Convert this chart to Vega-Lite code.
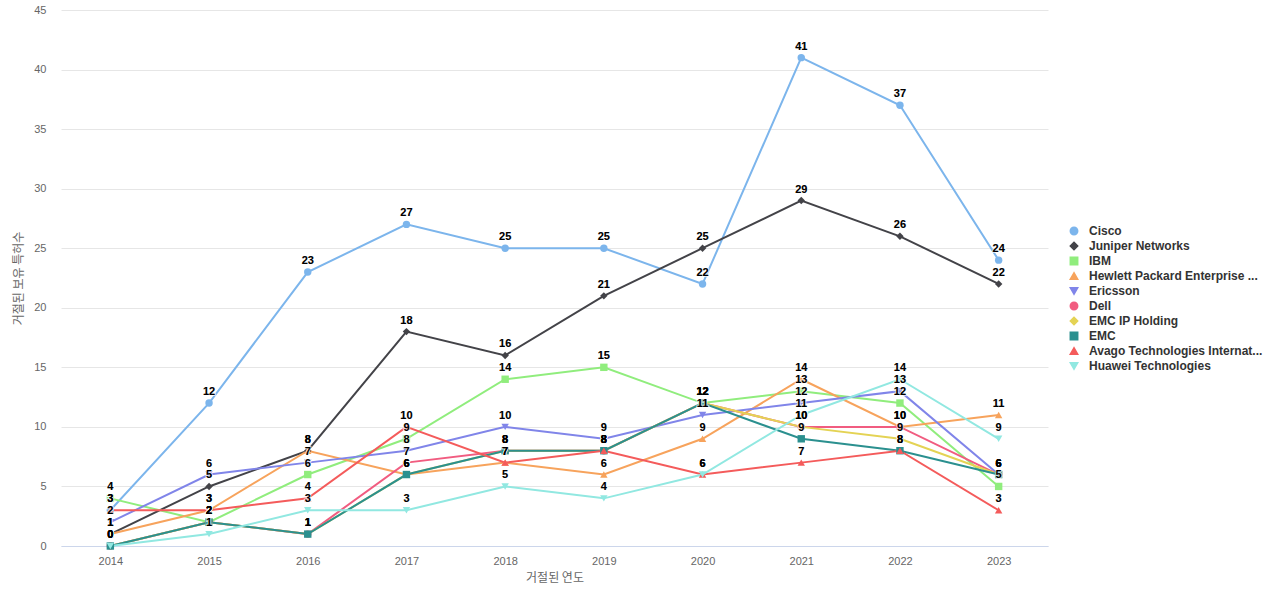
{
  "$schema": "https://vega.github.io/schema/vega-lite/v6.json",
  "autosize": {"type": "none"},
  "padding": {"left": 61, "top": 10, "right": 232, "bottom": 54},
  "width": 987,
  "height": 536,
  "background": "#ffffff",
  "config": {
    "view": {"stroke": null},
    "font": "Liberation Sans",
    "axis": {"labelFont": "Liberation Sans", "titleFont": "Noto Sans CJK KR"},
    "legend": {"labelFont": "Liberation Sans"}
  },
  "datasets": {
    "rows": [
      {"year": "2014", "company": "Cisco", "value": 3},
      {"year": "2015", "company": "Cisco", "value": 12},
      {"year": "2016", "company": "Cisco", "value": 23},
      {"year": "2017", "company": "Cisco", "value": 27},
      {"year": "2018", "company": "Cisco", "value": 25},
      {"year": "2019", "company": "Cisco", "value": 25},
      {"year": "2020", "company": "Cisco", "value": 22},
      {"year": "2021", "company": "Cisco", "value": 41},
      {"year": "2022", "company": "Cisco", "value": 37},
      {"year": "2023", "company": "Cisco", "value": 24},
      {"year": "2014", "company": "Juniper Networks", "value": 1},
      {"year": "2015", "company": "Juniper Networks", "value": 5},
      {"year": "2016", "company": "Juniper Networks", "value": 8},
      {"year": "2017", "company": "Juniper Networks", "value": 18},
      {"year": "2018", "company": "Juniper Networks", "value": 16},
      {"year": "2019", "company": "Juniper Networks", "value": 21},
      {"year": "2020", "company": "Juniper Networks", "value": 25},
      {"year": "2021", "company": "Juniper Networks", "value": 29},
      {"year": "2022", "company": "Juniper Networks", "value": 26},
      {"year": "2023", "company": "Juniper Networks", "value": 22},
      {"year": "2014", "company": "IBM", "value": 4},
      {"year": "2015", "company": "IBM", "value": 2},
      {"year": "2016", "company": "IBM", "value": 6},
      {"year": "2017", "company": "IBM", "value": 9},
      {"year": "2018", "company": "IBM", "value": 14},
      {"year": "2019", "company": "IBM", "value": 15},
      {"year": "2020", "company": "IBM", "value": 12},
      {"year": "2021", "company": "IBM", "value": 13},
      {"year": "2022", "company": "IBM", "value": 12},
      {"year": "2023", "company": "IBM", "value": 5},
      {"year": "2014", "company": "Hewlett Packard Enterprise ...", "value": 1},
      {"year": "2015", "company": "Hewlett Packard Enterprise ...", "value": 3},
      {"year": "2016", "company": "Hewlett Packard Enterprise ...", "value": 8},
      {"year": "2017", "company": "Hewlett Packard Enterprise ...", "value": 6},
      {"year": "2018", "company": "Hewlett Packard Enterprise ...", "value": 7},
      {"year": "2019", "company": "Hewlett Packard Enterprise ...", "value": 6},
      {"year": "2020", "company": "Hewlett Packard Enterprise ...", "value": 9},
      {"year": "2021", "company": "Hewlett Packard Enterprise ...", "value": 14},
      {"year": "2022", "company": "Hewlett Packard Enterprise ...", "value": 10},
      {"year": "2023", "company": "Hewlett Packard Enterprise ...", "value": 11},
      {"year": "2014", "company": "Ericsson", "value": 2},
      {"year": "2015", "company": "Ericsson", "value": 6},
      {"year": "2016", "company": "Ericsson", "value": 7},
      {"year": "2017", "company": "Ericsson", "value": 8},
      {"year": "2018", "company": "Ericsson", "value": 10},
      {"year": "2019", "company": "Ericsson", "value": 9},
      {"year": "2020", "company": "Ericsson", "value": 11},
      {"year": "2021", "company": "Ericsson", "value": 12},
      {"year": "2022", "company": "Ericsson", "value": 13},
      {"year": "2023", "company": "Ericsson", "value": 6},
      {"year": "2014", "company": "Dell", "value": 0},
      {"year": "2015", "company": "Dell", "value": 2},
      {"year": "2016", "company": "Dell", "value": 1},
      {"year": "2017", "company": "Dell", "value": 7},
      {"year": "2018", "company": "Dell", "value": 8},
      {"year": "2019", "company": "Dell", "value": 8},
      {"year": "2020", "company": "Dell", "value": 12},
      {"year": "2021", "company": "Dell", "value": 10},
      {"year": "2022", "company": "Dell", "value": 10},
      {"year": "2023", "company": "Dell", "value": 6},
      {"year": "2014", "company": "EMC IP Holding", "value": 0},
      {"year": "2015", "company": "EMC IP Holding", "value": 2},
      {"year": "2016", "company": "EMC IP Holding", "value": 1},
      {"year": "2017", "company": "EMC IP Holding", "value": 6},
      {"year": "2018", "company": "EMC IP Holding", "value": 8},
      {"year": "2019", "company": "EMC IP Holding", "value": 8},
      {"year": "2020", "company": "EMC IP Holding", "value": 12},
      {"year": "2021", "company": "EMC IP Holding", "value": 10},
      {"year": "2022", "company": "EMC IP Holding", "value": 9},
      {"year": "2023", "company": "EMC IP Holding", "value": 6},
      {"year": "2014", "company": "EMC", "value": 0},
      {"year": "2015", "company": "EMC", "value": 2},
      {"year": "2016", "company": "EMC", "value": 1},
      {"year": "2017", "company": "EMC", "value": 6},
      {"year": "2018", "company": "EMC", "value": 8},
      {"year": "2019", "company": "EMC", "value": 8},
      {"year": "2020", "company": "EMC", "value": 12},
      {"year": "2021", "company": "EMC", "value": 9},
      {"year": "2022", "company": "EMC", "value": 8},
      {"year": "2023", "company": "EMC", "value": 6},
      {"year": "2014", "company": "Avago Technologies Internat...", "value": 3},
      {"year": "2015", "company": "Avago Technologies Internat...", "value": 3},
      {"year": "2016", "company": "Avago Technologies Internat...", "value": 4},
      {"year": "2017", "company": "Avago Technologies Internat...", "value": 10},
      {"year": "2018", "company": "Avago Technologies Internat...", "value": 7},
      {"year": "2019", "company": "Avago Technologies Internat...", "value": 8},
      {"year": "2020", "company": "Avago Technologies Internat...", "value": 6},
      {"year": "2021", "company": "Avago Technologies Internat...", "value": 7},
      {"year": "2022", "company": "Avago Technologies Internat...", "value": 8},
      {"year": "2023", "company": "Avago Technologies Internat...", "value": 3},
      {"year": "2014", "company": "Huawei Technologies", "value": 0},
      {"year": "2015", "company": "Huawei Technologies", "value": 1},
      {"year": "2016", "company": "Huawei Technologies", "value": 3},
      {"year": "2017", "company": "Huawei Technologies", "value": 3},
      {"year": "2018", "company": "Huawei Technologies", "value": 5},
      {"year": "2019", "company": "Huawei Technologies", "value": 4},
      {"year": "2020", "company": "Huawei Technologies", "value": 6},
      {"year": "2021", "company": "Huawei Technologies", "value": 11},
      {"year": "2022", "company": "Huawei Technologies", "value": 14},
      {"year": "2023", "company": "Huawei Technologies", "value": 9}
    ]
  },
  "data": {"name": "rows"},
  "encoding": {
    "x": {
      "field": "year", "type": "ordinal",
      "scale": {"type": "point", "padding": 0.5},
      "axis": {
        "title": "거절된 연도", "labelAngle": 0, "labelColor": "#666666", "labelFontSize": 11,
        "titleColor": "#666666", "titleFontSize": 12, "titleFontWeight": "normal", "titlePadding": 6,
        "domainColor": "#ccd6eb", "ticks": false, "labelPadding": 9, "grid": false
      }
    },
    "y": {
      "field": "value", "type": "quantitative",
      "scale": {"domain": [0, 45], "nice": false},
      "axis": {
        "title": "거절된 보유 특허수", "values": [0, 5, 10, 15, 20, 25, 30, 35, 40, 45],
        "labelColor": "#666666", "labelFontSize": 11, "titleColor": "#666666", "titleFontSize": 12,
        "titleFontWeight": "normal", "titlePadding": 8, "domain": false, "ticks": false,
        "labelPadding": 15, "gridColor": "#e6e6e6"
      }
    },
    "color": {
      "field": "company", "type": "nominal",
      "scale": {
        "domain": ["Cisco", "Juniper Networks", "IBM", "Hewlett Packard Enterprise ...", "Ericsson", "Dell", "EMC IP Holding", "EMC", "Avago Technologies Internat...", "Huawei Technologies"],
        "range": ["#7cb5ec", "#434348", "#90ed7d", "#f7a35c", "#8085e9", "#f15c80", "#e4d354", "#2b908f", "#f45b5b", "#91e8e1"]
      },
      "legend": {
        "title": null, "orient": "none", "legendX": 1007, "legendY": 215,
        "labelFontSize": 12, "labelFontWeight": "bold", "labelColor": "#333333",
        "rowPadding": 1, "labelOffset": 9, "symbolSize": 55, "padding": 0, "labelLimit": 200
      }
    }
  },
  "layer": [
    {
      "mark": {"type": "line", "strokeWidth": 2}
    },
    {
      "mark": {"type": "point", "filled": true, "opacity": 1, "size": 55},
      "encoding": {
        "shape": {
          "field": "company", "type": "nominal",
          "scale": {
            "domain": ["Cisco", "Juniper Networks", "IBM", "Hewlett Packard Enterprise ...", "Ericsson", "Dell", "EMC IP Holding", "EMC", "Avago Technologies Internat...", "Huawei Technologies"],
            "range": ["circle", "diamond", "square", "triangle-up", "triangle-down", "circle", "diamond", "square", "triangle-up", "triangle-down"]
          },
          "legend": {
            "title": null, "orient": "none", "legendX": 1007, "legendY": 215,
            "labelFontSize": 12, "labelFontWeight": "bold", "labelColor": "#333333",
            "rowPadding": 1, "labelOffset": 9, "symbolSize": 55, "padding": 0, "labelLimit": 200
          }
        }
      }
    },
    {
      "mark": {"type": "text", "dy": -11, "fontSize": 11, "fontWeight": "bold", "stroke": "#ffffff", "strokeWidth": 2, "strokeOpacity": 0.7, "font": "Liberation Sans"},
      "encoding": {"text": {"field": "value", "type": "quantitative"}, "color": {"value": "#000000"}}
    },
    {
      "mark": {"type": "text", "dy": -11, "fontSize": 11, "fontWeight": "bold", "font": "Liberation Sans"},
      "encoding": {"text": {"field": "value", "type": "quantitative"}, "color": {"value": "#000000"}}
    }
  ]
}
